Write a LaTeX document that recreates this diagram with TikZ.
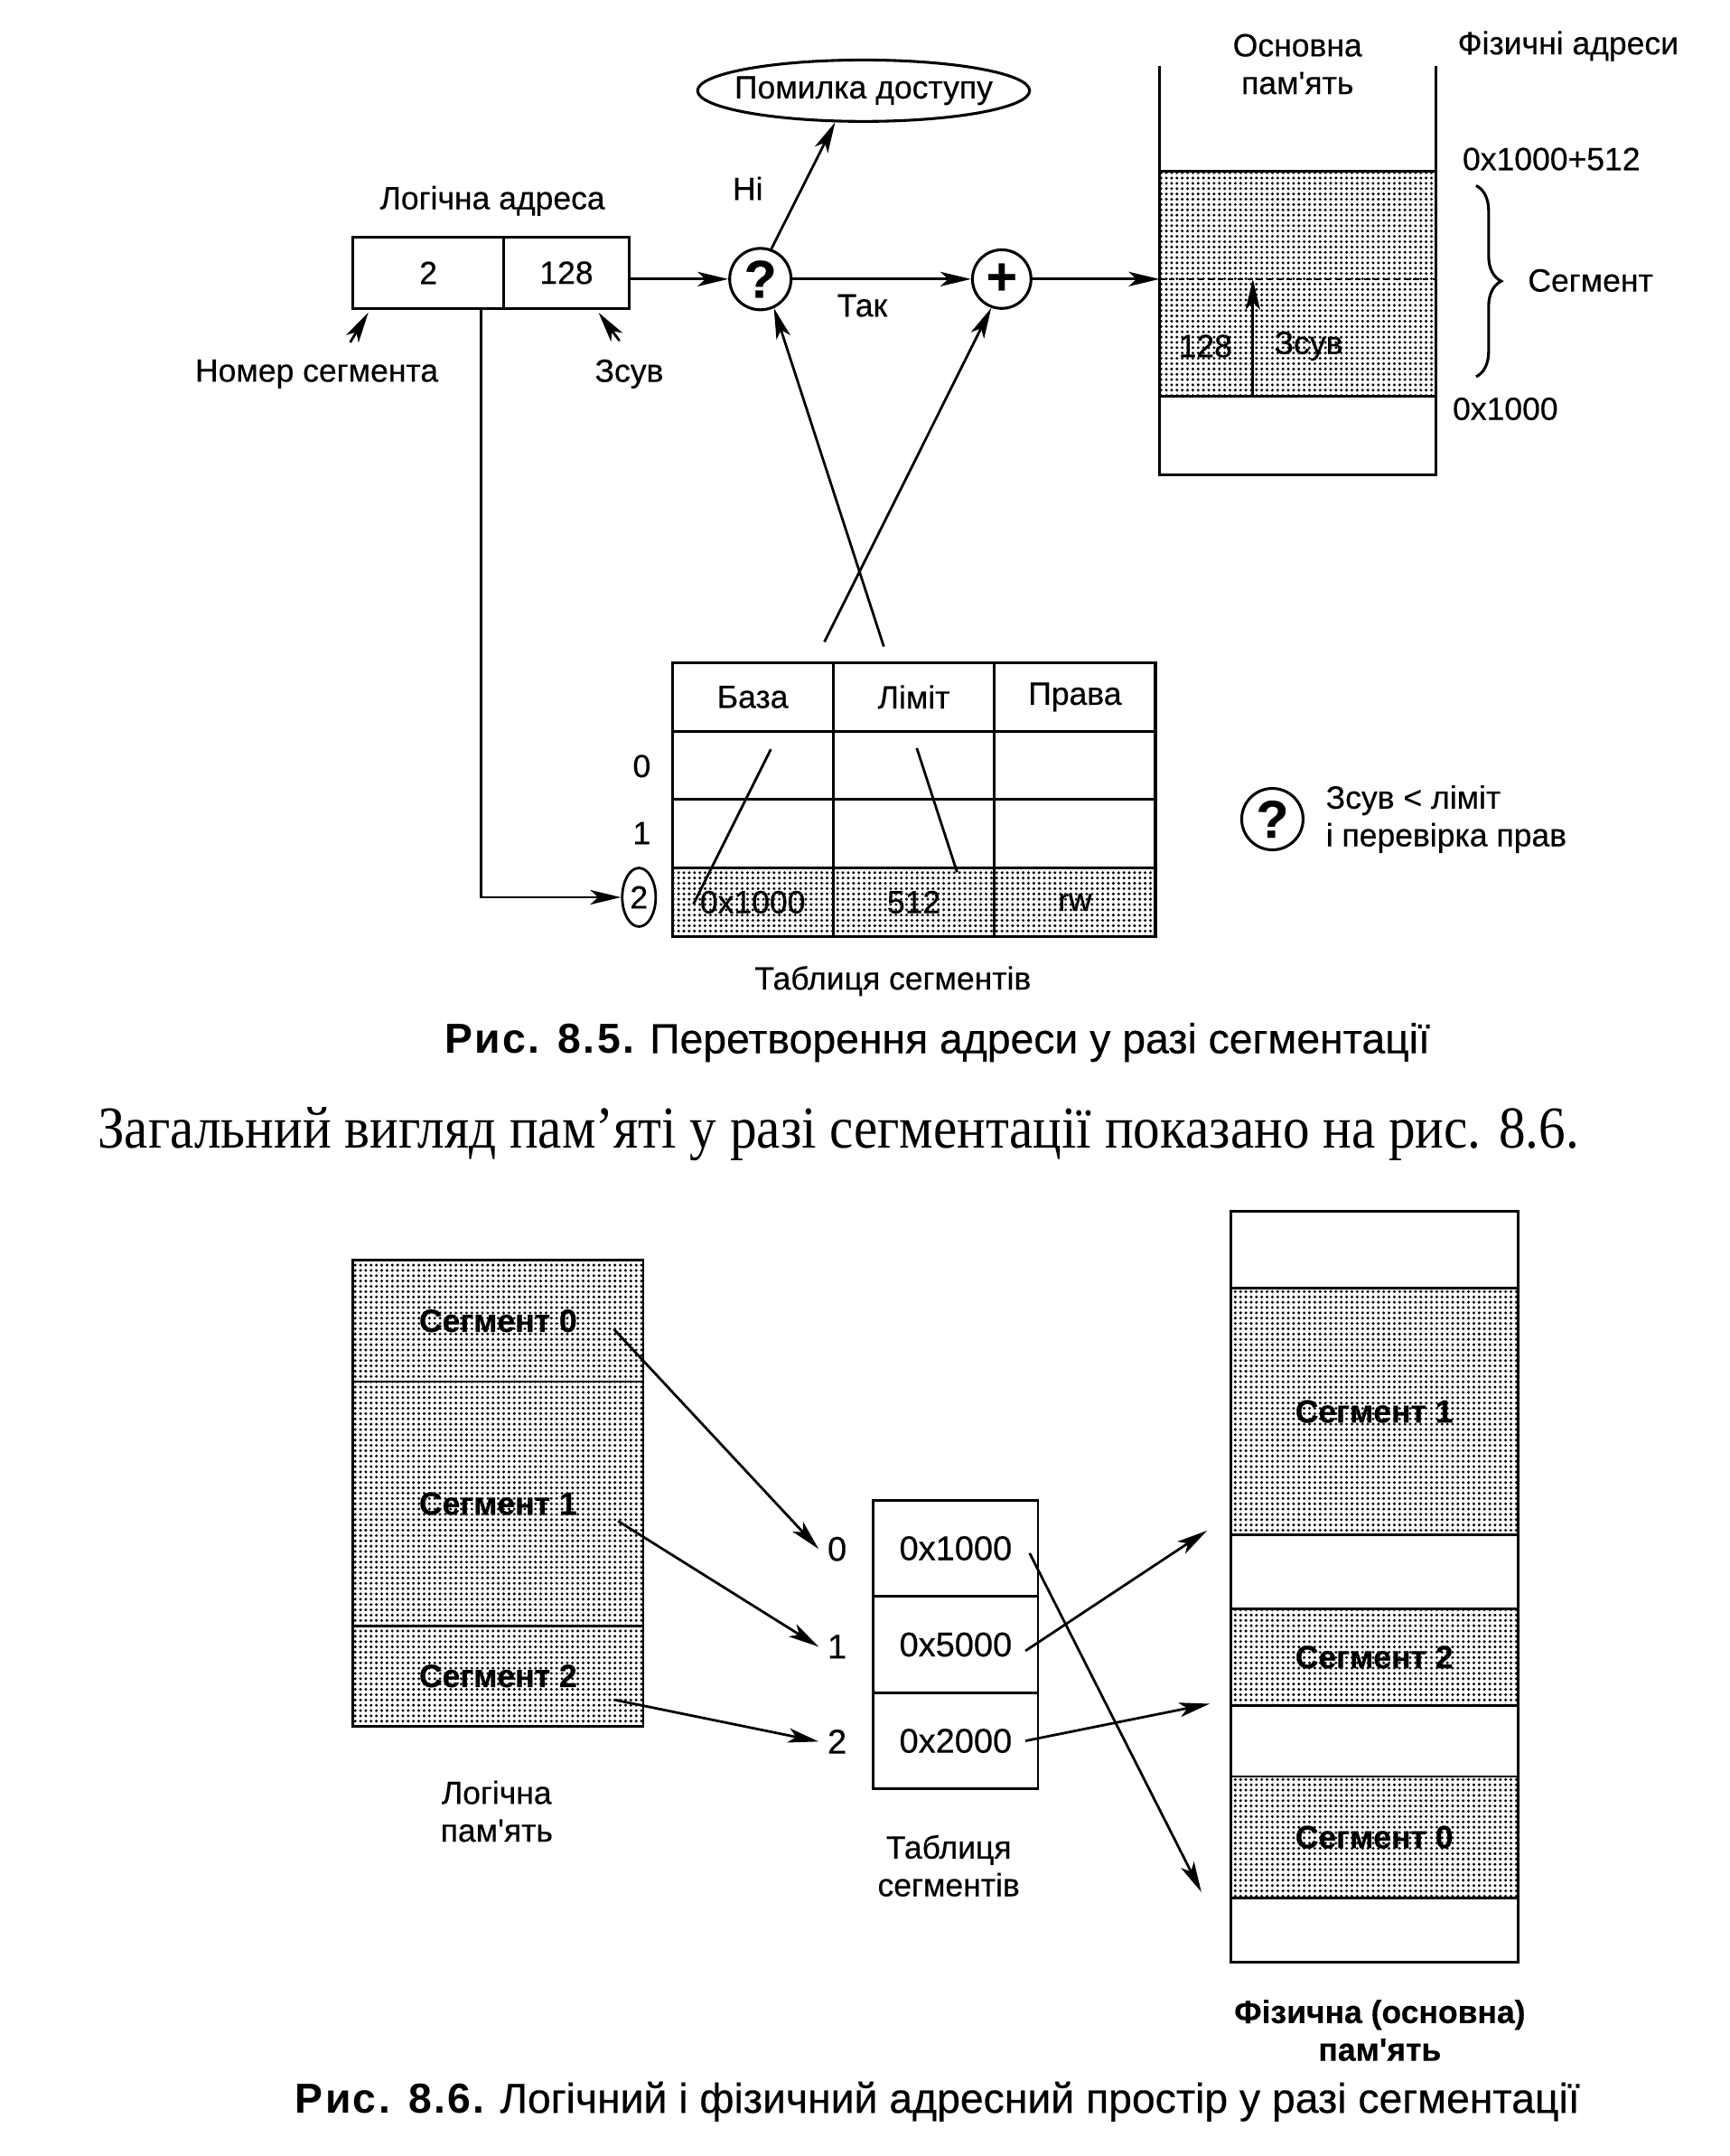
\documentclass[tikz,border=0pt]{standalone}
\usepackage{fontspec}
\newfontfamily\lblfam[FakeBold=0.4]{Liberation Sans}
\newfontfamily\capbfam[LetterSpace=5]{Liberation Sans}
\newfontfamily\serfam[FakeStretch=0.9]{Liberation Serif}
\usetikzlibrary{arrows.meta,shapes.geometric,patterns.meta,decorations.pathreplacing,calc}
\newcommand\lblsize{\fontsize{11.5}{13.5}\selectfont}
\newcommand\btmsize{\fontsize{12.3}{13.5}\selectfont}
\tikzset{
  lw/.style={line width=0.9pt},
  arr/.style={line width=0.9pt,-{Stealth[length=11pt,width=5.2pt,inset=2.8pt]}},
  shade/.style={pattern={Dots[distance=1.9pt,radius=0.55pt]}},
  lbl/.style={inner sep=1pt,font=\lblfam\lblsize,align=center},
  cell/.style={draw,line width=1pt,minimum width=57.7pt,minimum height=24.5pt,inner sep=0pt,font=\lblfam\lblsize},
  qcirc/.style={circle,draw,line width=1pt,minimum size=22pt,inner sep=0pt,font=\lblfam\bfseries\fontsize{19}{19}\selectfont},
  seglbl/.style={font=\lblfam\bfseries\fontsize{11.5}{13}\selectfont},
  mem/.style={draw,line width=0.9pt,minimum width=103pt,inner sep=0pt,seglbl},
  lmem/.style={draw,line width=0.9pt,minimum width=104pt,inner sep=0pt,seglbl},
  tcell/.style={draw,line width=0.9pt,minimum width=59pt,minimum height=34.5pt,inner sep=0pt,font=\lblfam\btmsize},
  captxt/.style={inner sep=1pt,font=\lblfam\fontsize{15}{17}\selectfont},
}
\begin{document}
\begin{tikzpicture}[x=0.5pt,y=-0.5pt]
\useasboundingbox (0,0) rectangle (1240,1545);
\fill[white] (0,0) rectangle (1240,1545);

% ---------------- Fig 8.5 ----------------
\node[cell,minimum width=54pt,minimum height=25.5pt] (seg) at (307,195.5) {2};
\node[cell,minimum width=45pt,minimum height=25.5pt] (off) at (406,195.5) {128};
\node[lbl] (latitle) at (353,144) {Логічна адреса};
\node[lbl] (numlbl) at (227,268) {Номер сегмента};
\node[lbl] (zsvlbl) at (451,268) {Зсув};
\draw[arr] ([xshift=12pt,yshift=5pt]numlbl.north) -- ([xshift=6pt,yshift=-1pt]seg.south west);
\draw[arr] ([xshift=-3.5pt,yshift=5.5pt]zsvlbl.north) -- ([xshift=-11.5pt,yshift=-1pt]off.south east);

\node[qcirc] (Q) at (545,200) {?};
\node[qcirc,font=\lblfam\bfseries\fontsize{19}{19}\selectfont,minimum size=21pt] (P) at (718,200) {+};
\node[ellipse,draw,line width=1pt,minimum width=119pt,minimum height=22pt,inner sep=0pt] (E) at (619,65) {};
\node[lbl] (Etxt) at (E.center) {Помилка доступу};

\draw[arr] (off.east |- Q.west) -- (Q.west);
\draw[arr] (Q.east) -- (P.west);
\node[lbl] (tak) at (618,219) {Так};
\draw[arr] (Q.70) -- (E.228);
\node[lbl] (ni) at (536,135) {Ні};

% main memory
\coordinate (memL) at (831,200);
\draw[arr] (P.east) -- (memL);
\fill[shade] (831,123) rectangle (1029,284);
\draw[line width=1pt] (831,47) -- (831,340) -- (1029,340) -- (1029,47);
\draw[line width=1pt] (831,123) -- (1029,123);
\draw[line width=1pt] (831,284) -- (1029,284);
\draw[line width=0.5pt,dash pattern=on 2pt off 1.5pt] (831,200) -- (1029,200);
\coordinate (zb) at (898,284);
\coordinate (zt) at (898,200);
\draw[arr] (zb) -- (zt);
\node[lbl] (m128) at (864,248) {128};
\node[lbl] (mzsv) at (938,248) {Зсув};
\node[lbl] (osn) at (930,46) {Основна\\пам'ять};
\node[lbl] (fiz) at (1124,33) {Фізичні адреси};
\node[lbl] (top) at (1112,114) {0x1000+512};
\node[lbl] (sgm) at (1140,201) {Сегмент};
\node[lbl] (bot) at (1079,293) {0x1000};
\draw[line width=1pt,decorate,decoration={brace,amplitude=9pt}] (1058,133) -- (1058,270);

% segment table
\node[cell] (h1) at (539.5,499.5) {База};
\node[cell] (h2) at (655,499.5) {Ліміт};
\node[cell] (h3) at (770.5,499.5) {Права};
\node[cell] (c01) at (539.5,548.5) {};
\node[cell] (c02) at (655,548.5) {};
\node[cell] (c03) at (770.5,548.5) {};
\node[cell] (c11) at (539.5,597.5) {};
\node[cell] (c12) at (655,597.5) {};
\node[cell] (c13) at (770.5,597.5) {};
\node[cell,shade] (c21) at (539.5,646.5) {0x1000};
\node[cell,shade] (c22) at (655,646.5) {512};
\node[cell,shade] (c23) at (770.5,646.5) {rw};
\node[lbl] (r0) at (460,549) {0};
\node[lbl] (r1) at (460,597) {1};
\node[ellipse,draw,lw,minimum width=12pt,minimum height=21pt,inner sep=0pt,font=\lblfam\lblsize] (r2) at (458,643) {2};
\draw[arr] ([xshift=19pt]seg.south) |- (r2.west);
\node[lbl] (tabt) at (640,703) {Таблиця сегментів};

\coordinate (b0) at (497,648);
\draw[lw] (b0) -- ($(b0)!0.26!(P.250)$);
\draw[arr] ($(b0)!0.44!(P.250)$) -- (P.250);
\coordinate (l0) at (686,625);
\draw[lw] (l0) -- ($(l0)!0.22!(Q.295)$);
\draw[arr] ($(l0)!0.40!(Q.295)$) -- (Q.295);

% legend
\node[qcirc] (Qleg) at (912,587) {?};
\node[lbl,anchor=west,align=left] (legtxt) at (948,587) {Зсув < ліміт\\і перевірка прав};

\node[captxt] (cap85) at (672,747) {{\capbfam\bfseries Рис. 8.5.} Перетворення адреси у разі сегментації};
\node[inner sep=1pt,font=\serfam\fontsize{21.3}{23}\selectfont] (body) at (601,813) {Загальний вигляд пам’яті у разі сегментації показано на рис. 8.6.};

% ---------------- Fig 8.6 ----------------
\node[lmem,shade,minimum height=43.5pt] (ls0) at (357,946.5) {Сегмент 0};
\node[lmem,shade,minimum height=87.5pt] (ls1) at (357,1077.5) {Сегмент 1};
\node[lmem,shade,minimum height=36pt] (ls2) at (357,1201) {Сегмент 2};
\node[lbl] (lmlbl) at (356,1298) {Логічна\\пам'ять};

\node[tcell] (t0) at (685,1109.5) {0x1000};
\node[tcell] (t1) at (685,1178.5) {0x5000};
\node[tcell] (t2) at (685,1247.5) {0x2000};
\node[inner sep=1pt,font=\lblfam\btmsize] (i0) at (600,1110) {0};
\node[inner sep=1pt,font=\lblfam\btmsize] (i1) at (600,1180) {1};
\node[inner sep=1pt,font=\lblfam\btmsize] (i2) at (600,1248) {2};
\node[lbl] (stlbl) at (680,1337) {Таблиця\\сегментів};

\draw[arr] ([xshift=41.5pt,yshift=-3pt]ls0.center) -- ([xshift=-2pt]i0.west);
\draw[arr] ([xshift=43pt,yshift=-6.25pt]ls1.center) -- ([xshift=-2pt]i1.west);
\draw[arr] ([xshift=41.5pt,yshift=-8.5pt]ls2.center) -- ([xshift=-2pt]i2.west);

\node[mem,minimum height=27.5pt] (pm0) at (985,895.5) {};
\node[mem,shade,minimum height=88.5pt] (pm1) at (985,1011.5) {Сегмент 1};
\node[mem,minimum height=26.5pt] (pm2) at (985,1126.5) {};
\node[mem,shade,minimum height=34.5pt] (pm3) at (985,1187.5) {Сегмент 2};
\node[mem,minimum height=25.5pt] (pm4) at (985,1247.5) {};
\node[mem,shade,minimum height=43.5pt] (pm5) at (985,1316.5) {Сегмент 0};
\node[mem,minimum height=23pt] (pm6) at (985,1383) {};
\node[inner sep=1pt,align=center,font=\lblfam\bfseries\fontsize{11.5}{13.5}\selectfont] (pmlbl) at (989,1455) {Фізична (основна)\\пам'ять};

\draw[arr] ([xshift=26.5pt,yshift=-1.75pt]t0.center) -- ([xshift=-10pt,yshift=2.5pt]pm5.south west);
\draw[arr] ([xshift=25pt,yshift=-2.25pt]t1.center) -- ([xshift=-8pt,yshift=2pt]pm1.south west);
\draw[arr] ([xshift=25pt]t2.center) -- ([xshift=-7pt,yshift=1pt]pm3.south west);

\node[captxt] (cap86) at (672,1506) {{\capbfam\bfseries Рис. 8.6.} Логічний і фізичний адресний простір у разі сегментації};
\end{tikzpicture}
\end{document}
